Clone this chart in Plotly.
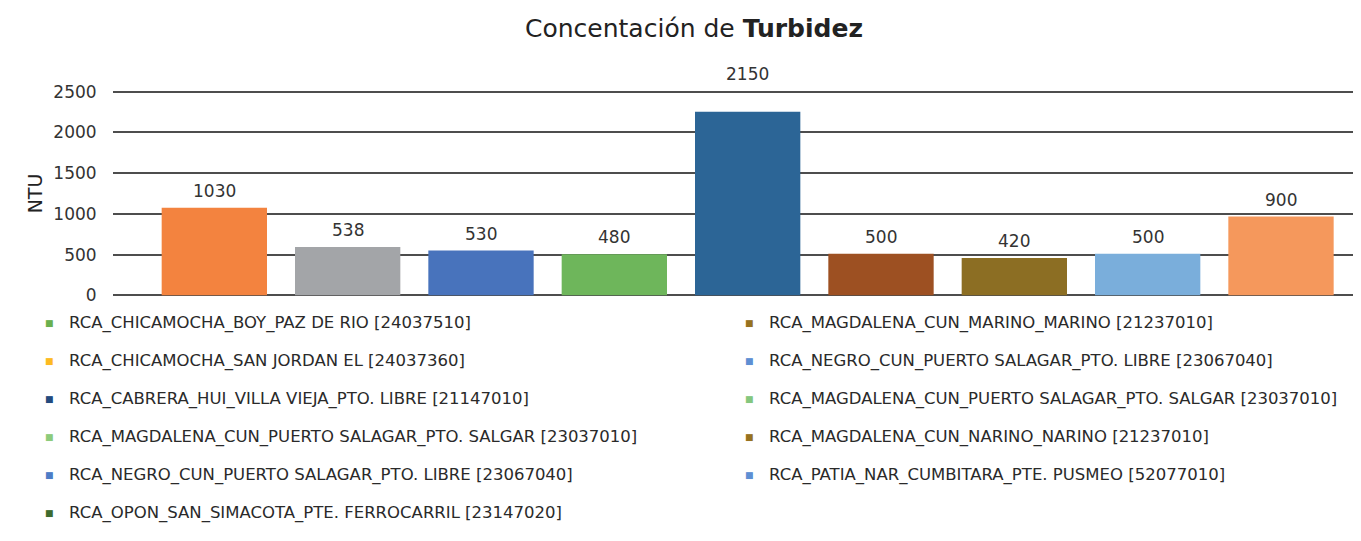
import plotly.graph_objects as go

# ---------------- data ----------------
bar_values = [1074, 595, 550, 505, 2254, 510, 460, 510, 967]
bar_labels = ["1030", "538", "530", "480", "2150", "500", "420", "500", "900"]
bar_colors = ["#F3833F", "#A3A5A8", "#4873BC", "#6EB65B", "#2C6596",
              "#9D5022", "#8C6E23", "#7AAEDB", "#F5985C"]

y_ticks = [0, 500, 1000, 1500, 2000, 2500]

legend_left = [
    ("RCA_CHICAMOCHA_BOY_PAZ DE RIO [24037510]", "#6AB04E"),
    ("RCA_CHICAMOCHA_SAN JORDAN EL [24037360]", "#FDBA21"),
    ("RCA_CABRERA_HUI_VILLA VIEJA_PTO. LIBRE [21147010]", "#234A7E"),
    ("RCA_MAGDALENA_CUN_PUERTO SALAGAR_PTO. SALGAR [23037010]", "#8CCB7B"),
    ("RCA_NEGRO_CUN_PUERTO SALAGAR_PTO. LIBRE [23067040]", "#4D7CC6"),
    ("RCA_OPON_SAN_SIMACOTA_PTE. FERROCARRIL [23147020]", "#3E6B2E"),
]
legend_right = [
    ("RCA_MAGDALENA_CUN_MARINO_MARINO [21237010]", "#97721F"),
    ("RCA_NEGRO_CUN_PUERTO SALAGAR_PTO. LIBRE [23067040]", "#5E8FD3"),
    ("RCA_MAGDALENA_CUN_PUERTO SALAGAR_PTO. SALGAR [23037010]", "#84C77E"),
    ("RCA_MAGDALENA_CUN_NARINO_NARINO [21237010]", "#97721F"),
    ("RCA_PATIA_NAR_CUMBITARA_PTE. PUSMEO [52077010]", "#5E8FD3"),
]

# ---------------- layout geometry ----------------
OFF = 8                       # page body margin
W, H = 1361 - OFF, 541 - OFF
ML, MR, MT, MB = 105, 0, 82, 244
PW, PH = W - ML - MR, H - MT - MB
Y_MAX = 2520
FONT = "DejaVu Sans, sans-serif"


def px_x(px):
    return (px - OFF - ML) / PW


def px_y(py):
    return (H - MB - (py - OFF)) / PH


xs = list(range(len(bar_values)))

fig = go.Figure()
fig.add_trace(go.Bar(
    x=xs, y=bar_values, marker=dict(color=bar_colors, line=dict(width=0)),
    width=0.79, showlegend=False, hoverinfo="y",
))

annotations = []
label_font = dict(family=FONT, size=17, color="#333333")
for x, v, t in zip(xs, bar_values, bar_labels):
    if v > 2000:
        # label would collide with the top gridline: place it above the plot
        annotations.append(dict(x=x, y=1, xref="x", yref="paper", text=t,
                                showarrow=False, yanchor="middle", yshift=16,
                                font=label_font))
    else:
        annotations.append(dict(x=x, y=v, xref="x", yref="y", text=t,
                                showarrow=False, yanchor="middle", yshift=17,
                                font=label_font))

row_y = [323, 361, 399, 437, 475, 513]
for items, mx, tx in [(legend_left, 49, 67), (legend_right, 749, 767)]:
    for i, (name, c) in enumerate(items):
        annotations.append(dict(x=px_x(mx), y=px_y(row_y[i]), xref="paper", yref="paper",
                                text="■", showarrow=False, xanchor="center", yanchor="middle",
                                font=dict(family="DejaVu Sans", size=9, color=c)))
        annotations.append(dict(x=px_x(tx), y=px_y(row_y[i]), xref="paper", yref="paper",
                                text=name, showarrow=False, xanchor="left", yanchor="middle",
                                font=dict(family=FONT, size=16.5, color="#2A2A2A")))

fig.update_layout(
    width=W, height=H,
    margin=dict(l=ML, r=MR, t=MT, b=MB, pad=0),
    paper_bgcolor="white", plot_bgcolor="white",
    title=dict(text="Concentación de <b>Turbidez</b>", x=(694 - OFF) / W, xanchor="center",
               y=1 - (28 - OFF) / H, yanchor="middle",
               font=dict(family=FONT, size=25, color="#222222")),
    xaxis=dict(range=[-0.76, 8.6], showticklabels=False, showgrid=False,
               zeroline=False, showline=False, ticks=""),
    yaxis=dict(range=[-20, Y_MAX], tickvals=y_ticks, showgrid=True,
               gridcolor="#4D4D4D", gridwidth=2, zeroline=False, showline=False,
               ticks="outside", ticklen=12, tickcolor="rgba(0,0,0,0)",
               tickfont=dict(family=FONT, size=17, color="#333333"),
               title=dict(text="NTU", standoff=5,
                          font=dict(family=FONT, size=19, color="#222222"))),
    annotations=annotations,
)

fig.write_html("out.html")
